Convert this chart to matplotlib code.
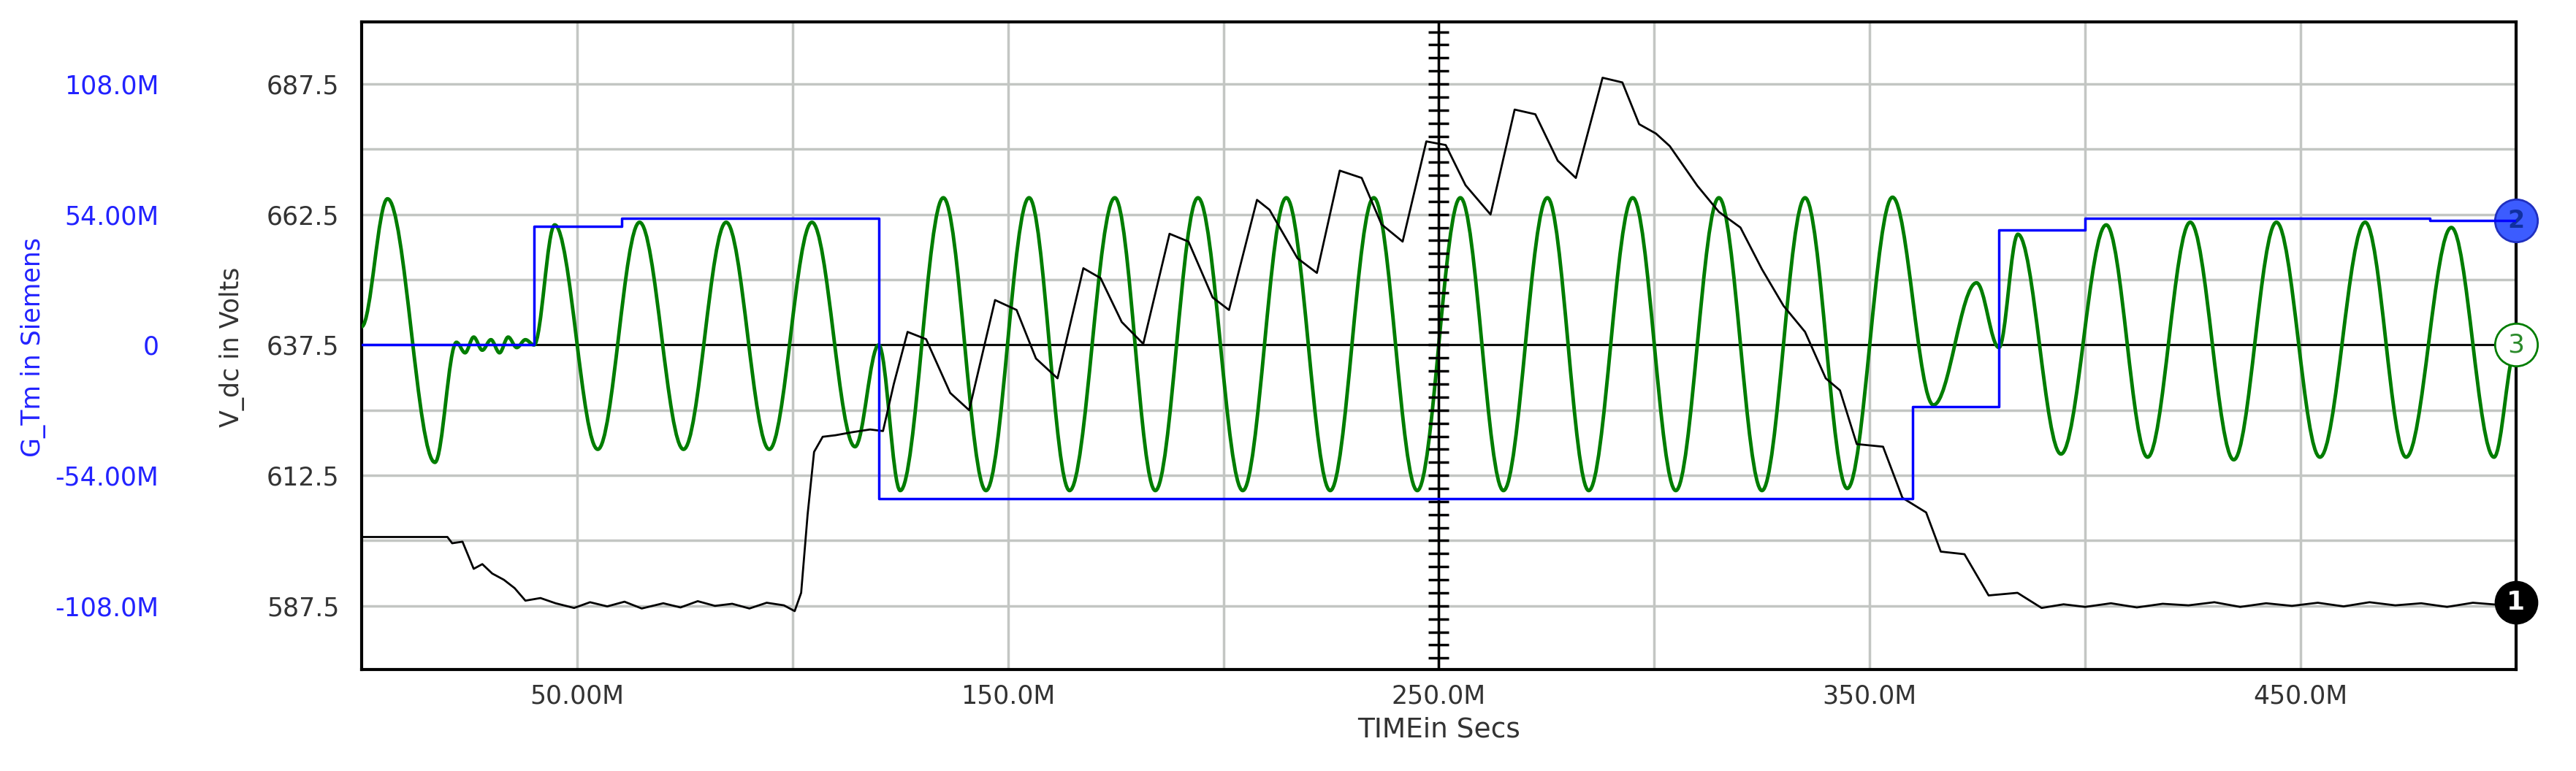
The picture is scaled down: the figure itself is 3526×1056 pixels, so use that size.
import matplotlib.pyplot as plt
from matplotlib.path import Path
from matplotlib.patches import PathPatch
import numpy as np

# ---- data (time in M, V_dc in Volts, G_Tm in M Siemens) ----
vdc_t = [0, 19.9, 21, 23.4, 26, 28, 30.3, 33, 35.5, 38, 41.5, 45, 49.3, 53, 57, 61, 65, 70, 74, 78, 82, 86, 90, 94, 98, 100.5,
         102, 103.5, 105, 107, 110, 114, 118, 121, 123.5, 126.7, 131, 136.6, 141, 147, 152, 156.5, 161.5, 167.5, 171.5,
         176.4, 181.4, 187.5, 191.9, 197.5, 201.3, 207.8, 210.7, 217.2, 221.7, 227, 232.1, 236.7, 241.6, 247.1, 251.6,
         256.2, 262, 267.6, 272.4, 277.6, 281.8, 288, 292.6, 296.5, 300.4, 303.6, 310, 315, 320, 325, 330, 335, 339.8,
         343.1, 347, 353.1, 357.6, 363.1, 366.5, 372, 377.6, 384.3, 389.9, 395, 400, 406, 412, 418, 424, 430, 436, 442,
         448, 454, 460, 466, 472, 478, 484, 490, 496, 500]
vdc_v = [600.7, 600.7, 599.5, 599.8, 594.6, 595.5, 593.7, 592.5, 590.9, 588.5, 589.0, 588.0, 587.1, 588.2, 587.4, 588.3,
         587.0, 588.0, 587.2, 588.4, 587.5, 587.9, 587.0, 588.1, 587.6, 586.5,
         590, 605, 617, 619.9, 620.2, 620.8, 621.3, 621.0, 630, 640, 638.6, 628.3, 625, 646.1, 644.2, 634.9, 631.1,
         652.2, 650.3, 641.9, 637.7, 658.8, 657.3, 646.6, 644.2, 665.3, 663.4, 654.1, 651.3, 670.9, 669.5, 660.6, 657.3,
         676.5, 675.8, 668.1, 662.5, 682.6, 681.7, 672.8, 669.5, 688.7, 687.8, 679.8, 678, 675.6, 668, 663, 660, 652,
         645, 640, 631.1, 628.8, 618.5, 618, 608.2, 605.4, 597.9, 597.4, 589.5, 590, 587.1, 587.8, 587.3, 588.0, 587.2,
         587.9, 587.6, 588.2, 587.3, 588.0, 587.5, 588.1, 587.4, 588.2, 587.6, 588.0, 587.3, 588.1, 587.7, 588.2]

gtm_t = [0, 40, 60.3, 120, 360, 380, 400, 480, 500]
gtm_g = [0, 49.0, 52.3, -63.5, -25.5, 47.7, 52.3, 51.4, 51.4]

# green trace: turning points
osc_t = [0, 6, 17, 22, 24, 26, 28, 30, 32, 34, 36, 38, 40,
         44.8, 54.8, 64.5, 74.7, 84.6, 94.6, 104.5, 114.5, 120,
         125, 135, 144.9, 154.9, 164.3, 174.8, 184.2, 194.1, 204.5, 214.6, 224.8, 234.9, 245, 255, 265, 275.2,
         284.8, 295, 305, 315, 325, 335, 344.8, 355.3, 364.8, 374.8, 380, 384.4, 394.4, 404.9, 414.5, 424.4,
         434.5, 444.4, 454.5, 465, 474.5, 485, 494.9, 500]
osc_v = [641, 665.5, 615, 638, 636, 639, 636.5, 638.5, 636, 639, 637, 638.5, 637.5,
         660.5, 617.5, 661, 617.5, 661, 617.5, 661, 618, 637.5,
         609.6, 665.7, 609.6, 665.7, 609.6, 665.7, 609.6, 665.7, 609.6, 665.7, 609.6, 665.7, 609.6, 665.7, 609.6,
         665.7, 609.6, 665.7, 609.6, 665.7, 609.6, 665.7, 610, 665.8, 626, 649.4, 637, 658.7, 616.6, 660.5, 616,
         661, 615.5, 661, 616, 661, 616, 660, 616, 637]

x_ticks = [50, 150, 250, 350, 450]
x_labels = ['50.00M', '150.0M', '250.0M', '350.0M', '450.0M']
v_ticks = [587.5, 612.5, 637.5, 662.5, 687.5]
v_labels = ['587.5', '612.5', '637.5', '662.5', '687.5']
g_labels = ['-108.0M', '-54.00M', '0', '54.00M', '108.0M']
cursor_t = 250

fig = plt.figure(figsize=(35.26, 10.56), dpi=100)
ax = fig.add_axes([0.1404, 0.1316, 0.8363, 0.84])
ymin, ymax = 575.3, 699.4
ax.set_xlim(0, 500)
ax.set_ylim(ymin, ymax)

# grid
for x in np.arange(50, 500, 50):
    ax.axvline(x, color='#c3c6c3', lw=2.5, zorder=0)
for y in np.arange(587.5, 699, 12.5):
    ax.axhline(y, color='#c3c6c3', lw=2.5, zorder=0)
ax.axhline(637.5, color='black', lw=2, zorder=1)

# smooth green: cubic segments between turning points
verts = [(osc_t[0], osc_v[0])]
codes = [Path.MOVETO]
for i in range(1, len(osc_t)):
    t0, v0, t1, v1 = osc_t[i - 1], osc_v[i - 1], osc_t[i], osc_v[i]
    d = (t1 - t0) * 0.36
    verts += [(t0 + d, v0), (t1 - d, v1), (t1, v1)]
    codes += [Path.CURVE4] * 3
ax.add_patch(PathPatch(Path(verts, codes), fill=False, edgecolor='#007d00', lw=3.5, zorder=3))

ax.plot(vdc_t, vdc_v, color='black', lw=2, zorder=4)

ax2 = ax.twinx()
gscale = 54.0 / 25.0
ax2.set_ylim((ymin - 637.5) * gscale, (ymax - 637.5) * gscale)
ax2.plot(gtm_t, gtm_g, color='#0000ff', lw=2.5, drawstyle='steps-post', zorder=5)

# cursor with ticks
ax.axvline(cursor_t, color='black', lw=2.5, zorder=6)
tk = np.arange(577.5, 699, 2.5)
ax.plot([cursor_t] * len(tk), tk, ls='none', marker='_', ms=20, mew=2.5, color='black', zorder=6)

# end markers
yb = gtm_g[-1] / gscale + 637.5
ax.plot([500], [yb], 'o', ms=42, mfc='#3c5cff', mec='#2030c0', mew=2, clip_on=False, zorder=10)
ax.text(500, yb, '2', ha='center', va='center', color='#1030a0', fontsize=24, fontweight='bold', zorder=11)
ax.plot([500], [637.5], 'o', ms=42, mfc='white', mec='#007d00', mew=2, clip_on=False, zorder=10)
ax.text(500, 637.5, '3', ha='center', va='center', color='#2a8a2a', fontsize=26, zorder=11)
ax.plot([500], [vdc_v[-1]], 'o', ms=42, mfc='black', mec='black', clip_on=False, zorder=10)
ax.text(500, vdc_v[-1], '1', ha='center', va='center', color='white', fontsize=26, fontweight='bold', zorder=11)

for s in ax.spines.values():
    s.set_linewidth(3)
for s in ax2.spines.values():
    s.set_visible(False)

ax.set_xticks(x_ticks)
ax.set_xticklabels(x_labels)
ax.tick_params(axis='x', length=0, pad=14, labelsize=25, labelcolor='#333333')
ax.set_yticks(v_ticks)
ax.set_yticklabels(v_labels)
ax.tick_params(axis='y', length=0, pad=22, labelsize=25, labelcolor='#333333')

ax2.set_yticks([(v - 637.5) * gscale for v in v_ticks])
ax2.set_yticklabels(g_labels)
ax2.yaxis.set_ticks_position('left')
ax2.tick_params(axis='y', length=0, pad=200, labelsize=25, labelcolor='#2222ff')

ax.set_xlabel('TIMEin Secs', fontsize=27, color='#333333', labelpad=8)
fig.text(0.013, 0.55, 'G_Tm in Siemens', rotation=90, ha='center', va='center', fontsize=25, color='#2222ff')
fig.text(0.09, 0.55, 'V_dc in Volts', rotation=90, ha='center', va='center', fontsize=25, color='#333333')

fig.savefig('out.png', dpi=100)
